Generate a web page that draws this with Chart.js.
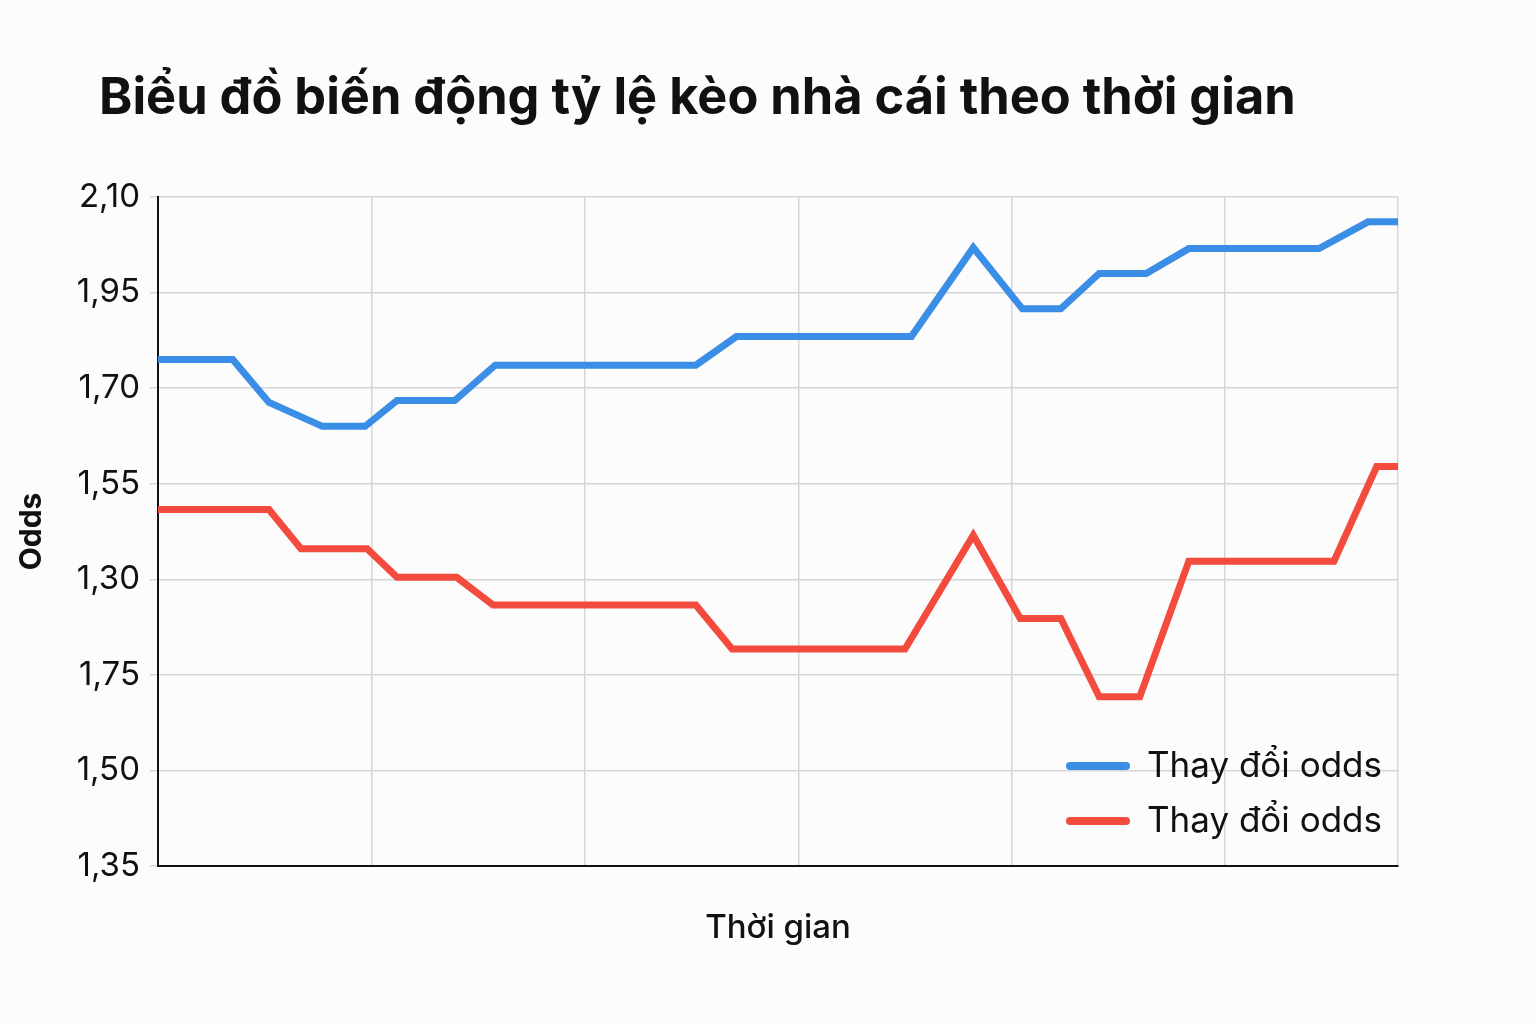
<!DOCTYPE html>
<html><head><meta charset="utf-8">
<script src="https://cdn.jsdelivr.net/npm/chart.js@4"></script>
<style>
html,body{margin:0;padding:0;background:#fcfcfc;width:1536px;height:1024px;overflow:hidden;font-family:Inter,"Noto Sans",sans-serif}
#title{position:absolute;left:99px;top:65px;font-size:50.5px;font-weight:700;color:#111;white-space:nowrap}
#wrap{position:absolute;left:0;top:0;width:1536px;height:1024px}
</style></head><body>
<div id="wrap"><canvas id="c" width="1536" height="1024"></canvas></div>
<div id="title">Biểu đồ biến động tỷ lệ kèo nhà cái theo thời gian</div>
<script>
// y ticks as shown in the picture (bottom to top, evenly spaced)
const tickLabels = ["1,35","1,50","1,75","1,30","1,55","1,70","1,95","2,10"];
const seriesNames = ["Thay đổi odds","Thay đổi odds"];
// time positions (in grid-column units) and values (in tick-step units)
const blueX = [0,0.35,0.52,0.77,0.97,1.12,1.39,1.58,2.52,2.71,3.53,3.82,4.05,4.23,4.41,4.63,4.83,5.44,5.67,5.81];
const blueY = [5.30,5.30,4.85,4.60,4.60,4.87,4.87,5.24,5.24,5.54,5.54,6.47,5.83,5.83,6.20,6.20,6.46,6.46,6.74,6.74];
const redX = [0,0.52,0.67,0.98,1.12,1.40,1.57,2.52,2.69,3.50,3.82,4.04,4.23,4.41,4.60,4.83,5.51,5.71,5.81];
const redY = [3.73,3.73,3.32,3.32,3.02,3.02,2.73,2.73,2.27,2.27,3.46,2.59,2.59,1.77,1.77,3.19,3.19,4.18,4.18];
const colors = ["#3a8ee6","#f44b3f"];
const pts = (xs,ys)=>xs.map((x,i)=>({x,y:ys[i]}));

const legendPlugin = {
  id:'lg',
  afterDraw(chart){
    const ctx = chart.ctx;
    ctx.save();
    ctx.font = '35px Inter, "Noto Sans", sans-serif';
    ctx.textBaseline = 'middle';
    seriesNames.forEach((n,i)=>{
      const y = 766 + i*55;
      ctx.strokeStyle = colors[i]; ctx.lineWidth = 8; ctx.lineCap='round';
      ctx.beginPath(); ctx.moveTo(1070,y); ctx.lineTo(1126,y); ctx.stroke();
      ctx.fillStyle = '#111'; ctx.fillText(n,1147,y);
    });
    ctx.restore();
  }
};

new Chart(document.getElementById('c'),{
  type:'line',
  data:{datasets:[
    {label:seriesNames[0],data:pts(blueX,blueY),borderColor:colors[0],borderWidth:7,pointRadius:0,tension:0,fill:false},
    {label:seriesNames[1],data:pts(redX,redY),borderColor:colors[1],borderWidth:7,pointRadius:0,tension:0,fill:false}
  ]},
  options:{
    responsive:false,animation:false,
    layout:{padding:{left:10,right:138,top:197,bottom:0}},
    plugins:{legend:{display:false},tooltip:{enabled:false}},
    scales:{
      x:{type:'linear',min:0,max:5.81,
        ticks:{display:false,stepSize:1},
        grid:{color:'#d6d6d6',lineWidth:1.5,drawTicks:false},
        border:{color:'#111',width:2},
        title:{display:true,text:'Thời gian',font:{size:33,weight:'500',family:'Inter, "Noto Sans", sans-serif'},color:'#111',padding:{top:0,bottom:76}},
        afterFit(s){s.height=158;}
      },
      y:{type:'linear',min:0,max:7,
        ticks:{stepSize:1,color:'#111',font:{size:33,family:'Inter, "Noto Sans", sans-serif'},padding:10,callback:(v)=>tickLabels[v]},
        grid:{color:'#d6d6d6',lineWidth:1.5,drawTicks:true,tickLength:8},
        border:{color:'#111',width:2},
        title:{display:true,text:'Odds',font:{size:30,weight:'bold',family:'Inter, "Noto Sans", sans-serif'},color:'#111',padding:4},
        afterFit(s){s.width=148;}
      }
    }
  },
  plugins:[legendPlugin]
});
</script></body></html>
